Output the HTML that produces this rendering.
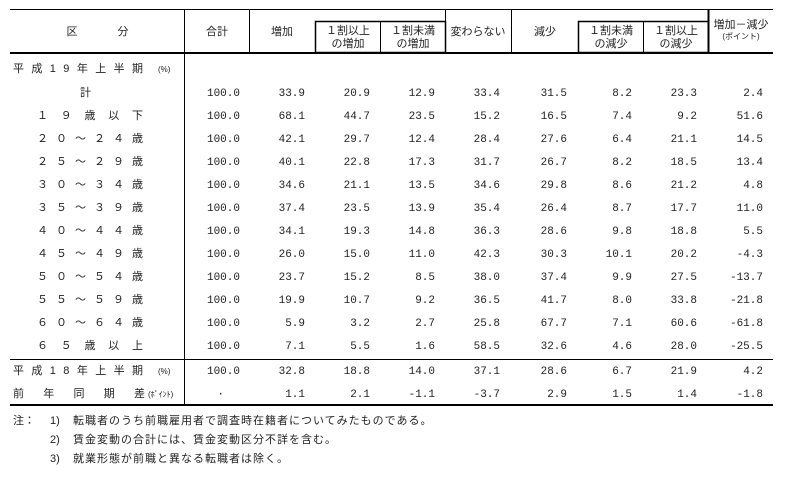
<!DOCTYPE html>
<html><head><meta charset="utf-8"><style>
body{margin:0;background:#fff}
svg text{font-family:"Liberation Mono","Noto Sans CJK JP",monospace;font-size:11px;fill:#222}
.j{font-family:"Liberation Sans","Noto Sans CJK JP",sans-serif;font-size:11px}
.s{font-size:8px}
.n{letter-spacing:1px}
</style></head><body>
<svg width="785" height="472" xmlns="http://www.w3.org/2000/svg">
<g stroke="#000" fill="none">
<line x1="10" y1="9.5" x2="773" y2="9.5" stroke-width="1"/>
<line x1="10" y1="53" x2="773" y2="53" stroke-width="2"/>
<line x1="10" y1="359.5" x2="773" y2="359.5" stroke-width="1"/>
<line x1="10" y1="405" x2="773" y2="405" stroke-width="2"/>
<line x1="184.5" y1="9" x2="184.5" y2="405" stroke-width="1"/>
<line x1="249.5" y1="9" x2="249.5" y2="53"/>
<line x1="445.5" y1="9" x2="445.5" y2="53"/>
<line x1="511.5" y1="9" x2="511.5" y2="53"/>
<line x1="708.5" y1="9" x2="708.5" y2="53" stroke-width="2"/>
<rect x="315.5" y="21.5" width="130" height="31" stroke-width="1.5"/>
<line x1="380.5" y1="21" x2="380.5" y2="53"/>
<rect x="578.5" y="21.5" width="130" height="31" stroke-width="1.5"/>
<line x1="643.5" y1="21" x2="643.5" y2="53"/>
</g>
<g class="j" text-anchor="middle">
<text x="72" y="35" class="j">区</text><text x="123" y="35" class="j">分</text>
<text x="217" y="35" class="j">合計</text>
<text x="282" y="35" class="j">増加</text>
<text x="348" y="34" class="j">１割以上</text><text x="348" y="47" class="j">の増加</text>
<text x="413" y="34" class="j">１割未満</text><text x="413" y="47" class="j">の増加</text>
<text x="478" y="35" class="j">変わらない</text>
<text x="545" y="35" class="j">減少</text>
<text x="611" y="34" class="j">１割未満</text><text x="611" y="47" class="j">の減少</text>
<text x="676" y="34" class="j">１割以上</text><text x="676" y="47" class="j">の減少</text>
<text x="741" y="28" class="j">増加－減少</text><text x="741" y="39" class="j s">(ポイント)</text>
</g>
<g class="j">
<text x="13" y="72" class="j" textLength="130" lengthAdjust="spacing">平成19年上半期</text><text x="158" y="72" class="j s">(%)</text>
<text x="80" y="96" class="j">計</text>
<text x="37" y="119" class="j" textLength="106" lengthAdjust="spacing">１９歳以下</text>
<text x="37" y="142" class="j" textLength="106" lengthAdjust="spacing">２０～２４歳</text>
<text x="37" y="165" class="j" textLength="106" lengthAdjust="spacing">２５～２９歳</text>
<text x="37" y="188" class="j" textLength="106" lengthAdjust="spacing">３０～３４歳</text>
<text x="37" y="211" class="j" textLength="106" lengthAdjust="spacing">３５～３９歳</text>
<text x="37" y="234" class="j" textLength="106" lengthAdjust="spacing">４０～４４歳</text>
<text x="37" y="257" class="j" textLength="106" lengthAdjust="spacing">４５～４９歳</text>
<text x="37" y="280" class="j" textLength="106" lengthAdjust="spacing">５０～５４歳</text>
<text x="37" y="303" class="j" textLength="106" lengthAdjust="spacing">５５～５９歳</text>
<text x="37" y="326" class="j" textLength="106" lengthAdjust="spacing">６０～６４歳</text>
<text x="37" y="349" class="j" textLength="106" lengthAdjust="spacing">６５歳以上</text>
<text x="13" y="374" class="j" textLength="130" lengthAdjust="spacing">平成18年上半期</text><text x="158" y="374" class="j s">(%)</text>
<text x="13" y="397" class="j" textLength="132" lengthAdjust="spacing">前年同期差</text><text x="148" y="397" class="j s">(ﾎﾟｲﾝﾄ)</text>
<text x="13" y="424" class="j">注：</text>
<text x="50" y="424" class="j">1)</text><text x="73" y="424" class="j n">転職者のうち前職雇用者で調査時在籍者についてみたものである。</text>
<text x="50" y="443" class="j">2)</text><text x="73" y="443" class="j n">賃金変動の合計には、賃金変動区分不詳を含む。</text>
<text x="50" y="462" class="j">3)</text><text x="73" y="462" class="j n">就業形態が前職と異なる転職者は除く。</text>
</g>
<g text-anchor="end">
<g transform="translate(0,96)">
<text x="240">100.0</text><text x="305">33.9</text><text x="370">20.9</text><text x="435">12.9</text><text x="500">33.4</text><text x="567">31.5</text><text x="632">8.2</text><text x="697">23.3</text><text x="763">2.4</text></g>
<g transform="translate(0,119)">
<text x="240">100.0</text><text x="305">68.1</text><text x="370">44.7</text><text x="435">23.5</text><text x="500">15.2</text><text x="567">16.5</text><text x="632">7.4</text><text x="697">9.2</text><text x="763">51.6</text></g>
<g transform="translate(0,142)">
<text x="240">100.0</text><text x="305">42.1</text><text x="370">29.7</text><text x="435">12.4</text><text x="500">28.4</text><text x="567">27.6</text><text x="632">6.4</text><text x="697">21.1</text><text x="763">14.5</text></g>
<g transform="translate(0,165)">
<text x="240">100.0</text><text x="305">40.1</text><text x="370">22.8</text><text x="435">17.3</text><text x="500">31.7</text><text x="567">26.7</text><text x="632">8.2</text><text x="697">18.5</text><text x="763">13.4</text></g>
<g transform="translate(0,188)">
<text x="240">100.0</text><text x="305">34.6</text><text x="370">21.1</text><text x="435">13.5</text><text x="500">34.6</text><text x="567">29.8</text><text x="632">8.6</text><text x="697">21.2</text><text x="763">4.8</text></g>
<g transform="translate(0,211)">
<text x="240">100.0</text><text x="305">37.4</text><text x="370">23.5</text><text x="435">13.9</text><text x="500">35.4</text><text x="567">26.4</text><text x="632">8.7</text><text x="697">17.7</text><text x="763">11.0</text></g>
<g transform="translate(0,234)">
<text x="240">100.0</text><text x="305">34.1</text><text x="370">19.3</text><text x="435">14.8</text><text x="500">36.3</text><text x="567">28.6</text><text x="632">9.8</text><text x="697">18.8</text><text x="763">5.5</text></g>
<g transform="translate(0,257)">
<text x="240">100.0</text><text x="305">26.0</text><text x="370">15.0</text><text x="435">11.0</text><text x="500">42.3</text><text x="567">30.3</text><text x="632">10.1</text><text x="697">20.2</text><text x="763">-4.3</text></g>
<g transform="translate(0,280)">
<text x="240">100.0</text><text x="305">23.7</text><text x="370">15.2</text><text x="435">8.5</text><text x="500">38.0</text><text x="567">37.4</text><text x="632">9.9</text><text x="697">27.5</text><text x="763">-13.7</text></g>
<g transform="translate(0,303)">
<text x="240">100.0</text><text x="305">19.9</text><text x="370">10.7</text><text x="435">9.2</text><text x="500">36.5</text><text x="567">41.7</text><text x="632">8.0</text><text x="697">33.8</text><text x="763">-21.8</text></g>
<g transform="translate(0,326)">
<text x="240">100.0</text><text x="305">5.9</text><text x="370">3.2</text><text x="435">2.7</text><text x="500">25.8</text><text x="567">67.7</text><text x="632">7.1</text><text x="697">60.6</text><text x="763">-61.8</text></g>
<g transform="translate(0,349)">
<text x="240">100.0</text><text x="305">7.1</text><text x="370">5.5</text><text x="435">1.6</text><text x="500">58.5</text><text x="567">32.6</text><text x="632">4.6</text><text x="697">28.0</text><text x="763">-25.5</text></g>
<g transform="translate(0,374)">
<text x="240">100.0</text><text x="305">32.8</text><text x="370">18.8</text><text x="435">14.0</text><text x="500">37.1</text><text x="567">28.6</text><text x="632">6.7</text><text x="697">21.9</text><text x="763">4.2</text></g>
<g transform="translate(0,397)">
<text x="224">·</text><text x="305">1.1</text><text x="370">2.1</text><text x="435">-1.1</text><text x="500">-3.7</text><text x="567">2.9</text><text x="632">1.5</text><text x="697">1.4</text><text x="763">-1.8</text></g>
</g>
</svg>
</body></html>
